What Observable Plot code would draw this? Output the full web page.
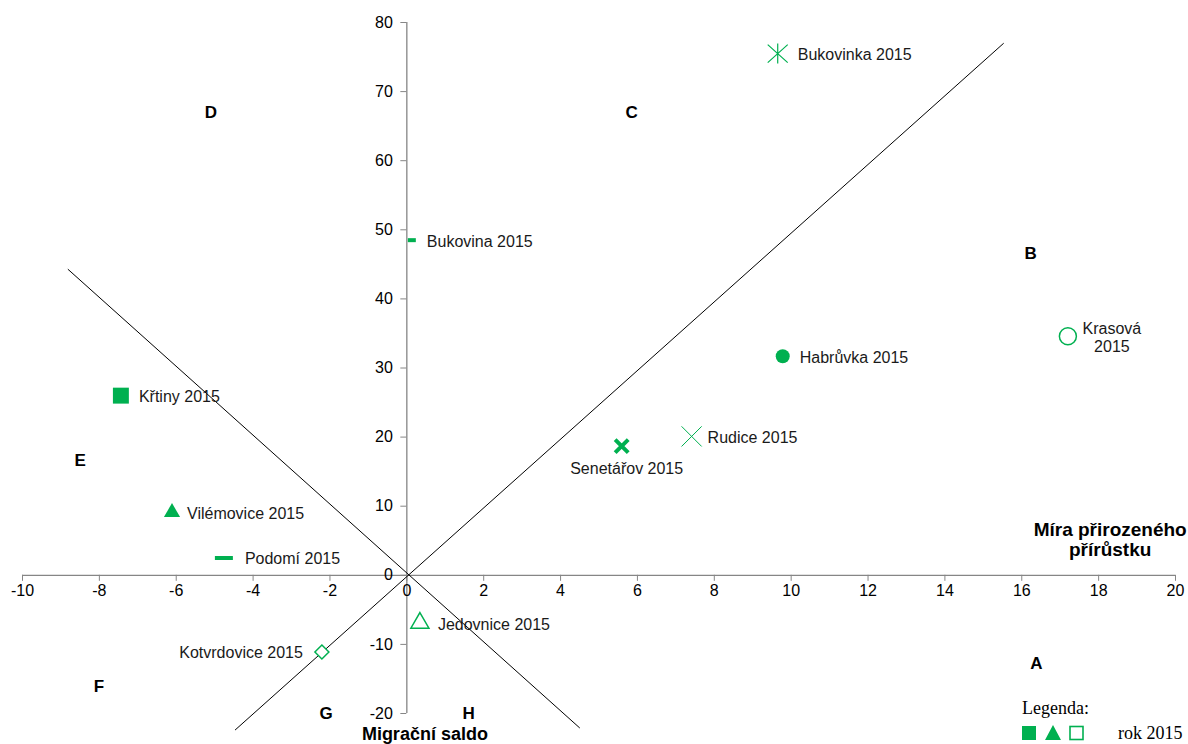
<!DOCTYPE html>
<html><head><meta charset="utf-8">
<script src="https://cdn.jsdelivr.net/npm/d3@7"></script>
<script src="https://cdn.jsdelivr.net/npm/@observablehq/plot@0.6"></script>
<style>
body{margin:0;background:#fff;}
#wrap{position:relative;width:1188px;height:744px;overflow:hidden;background:#fff;}
#legend{position:absolute;left:1022px;top:698px;font-family:"Liberation Serif","DejaVu Serif",serif;font-size:18px;color:#000;line-height:20px;}
#legend .row{display:flex;align-items:center;margin-top:5px;}
#legend .row span{margin-left:30px;}
</style></head><body>
<div id="wrap"><div id="chart"></div>
<div id="legend"><div>Legenda:</div><div class="row"><svg width="66" height="18" viewBox="0 0 66 18"><rect x="0" y="2" width="14" height="14" fill="#00B050"/><polygon points="31,1 39,16 23,16" fill="#00B050"/><rect x="48" y="2.5" width="13" height="13" fill="#fff" stroke="#00B050" stroke-width="1.6"/></svg><span>rok 2015</span></div></div>
</div>
<script>
// ---- data ----
const names = ["Bukovinka 2015","Bukovina 2015","Krasová\n2015","Habrůvka 2015","Křtiny 2015","Rudice 2015","Senetářov 2015","Vilémovice 2015","Podomí 2015","Jedovnice 2015","Kotvrdovice 2015"];
const growthRate = [9.65, 0.13, 17.2, 9.78, -7.44, 7.41, 5.59, -6.11, -4.76, 0.34, -2.21];   // Míra přirozeného přírůstku (x)
const migration  = [75.5, 48.5, 34.6, 31.7, 26.0, 20.1, 18.7, 9.1, 2.5, -6.9, -11.1];      // Migrační saldo (y)
const quadLetters = ["A","B","C","D","E","F","G","H"];
const quadX = [16.38, 16.23, 5.85, -5.1, -8.5, -8.01, -2.1, 1.61];
const quadY = [-12.7, 46.6, 66.9, 66.9, 16.6, -16.1, -20.0, -20.0];
const line1X = [-4.47, 15.53], line1Y = [-22.4, 77.0];
const line2X = [-8.82, 4.5],  line2Y = [44.3, -22.1];
const xTicks = [-10,-8,-6,-4,-2,0,2,4,6,8,10,12,14,16,18,20];
const yTicks = [-20,-10,0,10,20,30,40,50,60,70,80];
const xTitle = "Míra přirozeného\npřírůstku";
const yTitle = "Migrační saldo";

// ---- styling ----
const GREEN = "#00B050", AXIS = "#868686";
const W = 1188, H = 744, mL = 22, mR = 13, mT = 22, mB = 31;
const dash = (w, h) => ({draw(ctx){ ctx.rect(-w/2, -h/2, w, h); }});
const star = {draw(ctx){
  ctx.moveTo(0, -10); ctx.lineTo(0, 10);
  ctx.moveTo(-10, -9); ctx.lineTo(10, 9);
  ctx.moveTo(-10, 9); ctx.lineTo(10, -9);
}};
const markerStyle = {
  "Bukovinka 2015":   {symbol:star, r:9.5, fill:"none", stroke:GREEN, strokeWidth:1.2},
  "Bukovina 2015":    {symbol:dash(8,4), r:5, fill:GREEN, stroke:"none"},
  "Krasová\n2015":    {symbol:"circle", r:8.5, fill:"white", stroke:GREEN, strokeWidth:1.5},
  "Habrůvka 2015":    {symbol:"circle", r:7, fill:GREEN, stroke:"none"},
  "Křtiny 2015":      {symbol:"square", r:9, fill:GREEN, stroke:"none"},
  "Rudice 2015":      {symbol:"times", r:9.2, fill:"none", stroke:GREEN, strokeWidth:1},
  "Senetářov 2015":   {symbol:"times", r:6, fill:"none", stroke:GREEN, strokeWidth:4},
  "Vilémovice 2015":  {symbol:"triangle", r:6, fill:GREEN, stroke:"none"},
  "Podomí 2015":      {symbol:dash(18,4), r:5, fill:GREEN, stroke:"none"},
  "Jedovnice 2015":   {symbol:"triangle", r:6.7, fill:"white", stroke:GREEN, strokeWidth:1.5},
  "Kotvrdovice 2015": {symbol:"diamond2", r:6.3, fill:"white", stroke:GREEN, strokeWidth:1.5}
};
const labelPlace = {
  "Bukovinka 2015":   {dx:20, dy:1, textAnchor:"start"},
  "Bukovina 2015":    {dx:15, dy:1, textAnchor:"start"},
  "Krasová\n2015":    {dx:44, dy:1, textAnchor:"middle"},
  "Habrůvka 2015":    {dx:17, dy:1, textAnchor:"start"},
  "Křtiny 2015":      {dx:18, dy:1, textAnchor:"start"},
  "Rudice 2015":      {dx:16, dy:1, textAnchor:"start"},
  "Senetářov 2015":   {dx:5, dy:22, textAnchor:"middle"},
  "Vilémovice 2015":  {dx:15, dy:1, textAnchor:"start"},
  "Podomí 2015":      {dx:21, dy:0, textAnchor:"start"},
  "Jedovnice 2015":   {dx:18, dy:1, textAnchor:"start"},
  "Kotvrdovice 2015": {dx:-19, dy:0, textAnchor:"end"}
};

const points = names.map((n, i) => ({name:n, x:growthRate[i], y:migration[i]}));
const quads = quadLetters.map((q, i) => ({q, x:quadX[i], y:quadY[i]}));
const lines = [
  {x1:line1X[0], y1:line1Y[0], x2:line1X[1], y2:line1Y[1]},
  {x1:line2X[0], y1:line2Y[0], x2:line2X[1], y2:line2Y[1]}
];

const xDomain = [-10, 20], yDomain = [-20, 80];
const xs = Plot.scale({x:{domain:xDomain, range:[mL, W - mR]}});
const ys = Plot.scale({y:{domain:yDomain, range:[H - mB, mT]}});
const axisDy = ys.apply(0) - (H - mB);
const axisDx = xs.apply(0) - mL;

const marks = [
  Plot.ruleY([0], {stroke:AXIS, strokeWidth:1.3}),
  Plot.ruleX([0], {stroke:AXIS, strokeWidth:1.3}),
  Plot.axisX(xTicks, {anchor:"bottom", dy:axisDy, tickSize:6, tickPadding:3, stroke:AXIS, fill:"#000", fontSize:16, tickFormat:d => String(d), label:null}),
  Plot.axisY(yTicks, {anchor:"left", dx:axisDx, tickSize:6, tickPadding:8, stroke:AXIS, fill:"#000", fontSize:16, tickFormat:d => String(d), label:null}),
  Plot.link(lines, {x1:"x1", y1:"y1", x2:"x2", y2:"y2", stroke:"#000", strokeWidth:1}),
  Plot.text(quads, {x:"x", y:"y", text:"q", fontWeight:"bold", fontSize:17, fill:"#000"}),
  Plot.text([xTitle], {x:18.3, y:5.2, text:d => d, fontWeight:"bold", fontSize:19, fill:"#000", lineHeight:1.05}),
  Plot.text([yTitle], {x:0.47, y:-23.0, text:d => d, fontWeight:"bold", fontSize:18, fill:"#000"})
];
for (const p of points) {
  const s = markerStyle[p.name];
  marks.push(Plot.dot([p], {x:"x", y:"y", ...s}));
  const l = labelPlace[p.name];
  marks.push(Plot.text([p], {x:"x", y:"y", text:"name", fontSize:16, fill:"#1a1a1a", lineHeight:1.1, ...l}));
}

const chart = Plot.plot({
  width:W, height:H, marginLeft:mL, marginRight:mR, marginTop:mT, marginBottom:mB,
  x:{domain:xDomain}, y:{domain:yDomain},
  style:{fontFamily:"'Liberation Sans', Arial, sans-serif", fontSize:"16px", background:"#fff", overflow:"visible"},
  marks
});
document.getElementById("chart").appendChild(chart);
</script>
</body></html>
